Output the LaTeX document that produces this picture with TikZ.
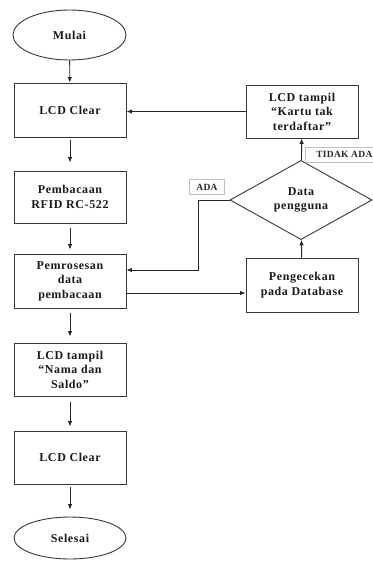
\documentclass[tikz,border=0pt]{standalone}
\usepackage{fontspec}
\setmainfont{Liberation Serif}
\newfontfamily\flowfont[LetterSpace=5]{Liberation Serif}
\newfontfamily\lblfont[LetterSpace=3]{Liberation Serif}
\usetikzlibrary{shapes.geometric,arrows.meta,calc}
\tikzset{
  base/.style={draw=black!78, line width=0.9pt, inner sep=0pt, align=center,
    font=\flowfont\bfseries\fontsize{12}{14.5}\selectfont, text=black!90},
  procbox/.style={base, rectangle, minimum width=112pt, minimum height=53pt},
  termin/.style={base, ellipse, minimum width=113pt, minimum height=50pt},
  decis/.style={base, diamond, minimum width=142pt, minimum height=74pt},
  lbl/.style={draw=black!25, line width=0.6pt, rectangle, inner xsep=7pt, inner ysep=2pt,
    minimum height=15pt, font=\lblfont\bfseries\fontsize{9.5}{11}\selectfont, text=black!85},
  arr/.style={draw=black!85, line width=0.9pt, -{Latex[length=5.5pt,width=4.5pt]}}
}
\begin{document}
\begin{tikzpicture}[x=1pt,y=-1pt]
\useasboundingbox (0,0) rectangle (372,561);
% left column
\node[termin] (mulai) at (69.5,35) {Mulai};
\node[procbox, minimum height=54pt] (clr1) at (70,110) {LCD Clear};
\node[procbox, minimum height=52pt] (baca) at (70,197) {Pembacaan\\RFID RC-522};
\node[procbox, minimum height=54pt] (proses) at (70,281) {Pemrosesan\\data\\pembacaan};
\node[procbox] (nama) at (70,369.5) {LCD tampil\\“Nama dan\\Saldo”};
\node[procbox] (clr2) at (70,457.5) {LCD Clear};
\node[termin, minimum width=112pt, minimum height=42pt] (selesai) at (70,538) {Selesai};
% right column
\node[procbox] (kartu) at (302,111.5) {LCD tampil\\“Kartu tak\\terdaftar”};
\node[decis] (data) at (301,200) {Data\\pengguna};
\node[procbox, minimum height=54pt] (cek) at (302,285) {Pengecekan\\pada Database};
% labels
\node[lbl] (ada) at (207,187) {ADA};
\node[lbl, anchor=west, inner xsep=11pt] (tidak) at (305,154.5) {TIDAK ADA};
% main chain
\draw[arr] (mulai) -- (clr1);
\draw[arr, shorten <=3pt, shorten >=8pt] (clr1) -- (baca);
\draw[arr, shorten <=5pt, shorten >=4pt] (baca) -- (proses);
\draw[arr, shorten <=5pt, shorten >=6pt] (proses) -- (nama);
\draw[arr, shorten <=6pt, shorten >=4pt] (nama) -- (clr2);
\draw[arr, shorten <=3pt, shorten >=7pt] (clr2) -- (selesai);
% loop
\coordinate (pout) at ([yshift=-12pt]proses.east);
\coordinate (pin) at ([yshift=11pt]proses.east);
\coordinate (adacorner) at (198,200);
\draw[arr] (pout) -- (pout -| cek.west);
\draw[arr] (cek) -- (data);
\draw[arr] (data) -- (kartu);
\draw[arr] (kartu.west) -- (kartu.west -| clr1.east);
\draw[arr] (data.west) -- (adacorner) |- (pin);
\end{tikzpicture}
\end{document}
